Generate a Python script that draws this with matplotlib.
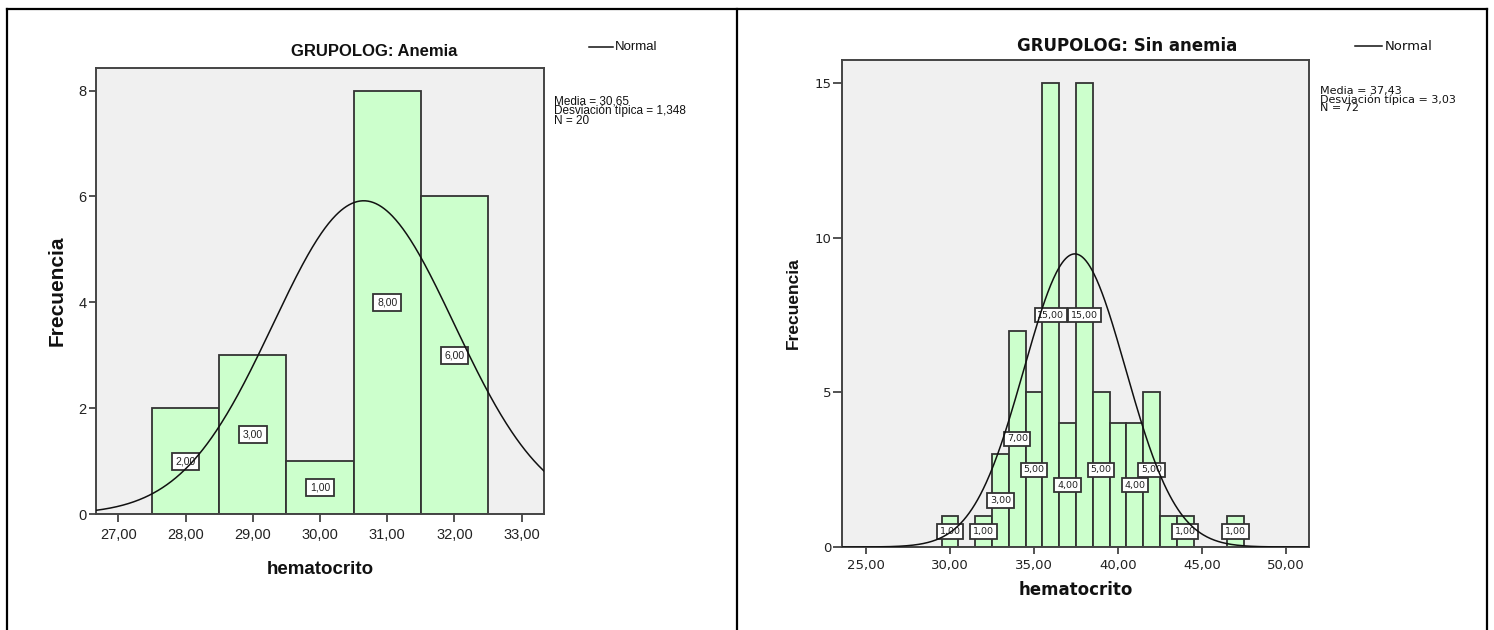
import numpy as np
import matplotlib
matplotlib.use('Agg')
import matplotlib.pyplot as plt
from matplotlib.lines import Line2D

W, H = 1494, 630

# ---------------- data ----------------
left_title = 'GRUPOLOG: Anemia'
left_centers = [28, 29, 30, 31, 32]
left_counts = [2, 3, 1, 8, 6]
left_show = [True, True, True, True, True]
left_mean, left_sd, left_n = 30.65, 1.348, 20
left_stats = ['Media = 30,65', 'Desviación típica = 1,348', 'N = 20']
left_xticks = [27, 28, 29, 30, 31, 32, 33]
left_xticklabels = ['27,00', '28,00', '29,00', '30,00', '31,00', '32,00', '33,00']
left_yticks = [0, 2, 4, 6, 8]
left_yticklabels = ['0', '2', '4', '6', '8']

right_title = 'GRUPOLOG: Sin anemia'
right_centers = [30, 31, 32, 33, 34, 35, 36, 37, 38, 39, 40, 41, 42, 43, 44, 45, 46, 47]
right_counts = [1, 0, 1, 3, 7, 5, 15, 4, 15, 5, 4, 4, 5, 1, 1, 0, 0, 1]
right_show = [True, False, True, True, True, True, True, True, True, True, False, True, True, False, True, False, False, True]
right_mean, right_sd, right_n = 37.43, 3.03, 72
right_stats = ['Media = 37,43', 'Desviación típica = 3,03', 'N = 72']
right_xticks = [25, 30, 35, 40, 45, 50]
right_xticklabels = ['25,00', '30,00', '35,00', '40,00', '45,00', '50,00']
right_yticks = [0, 5, 10, 15]
right_yticklabels = ['0', '5', '10', '15']

x_label = 'hematocrito'
y_label = 'Frecuencia'
legend_label = 'Normal'
bin_width = 1.0

# ---------------- styles ----------------
BG = '#F0F0F0'
BAR = '#CCFFCC'
EDGE = '#333333'
SPINE = '#444444'
ARIAL = ['Liberation Sans', 'DejaVu Sans']
DEJAVU = ['DejaVu Sans']


def fx(px):
    return px / W


def fy(py):
    return 1 - py / H


def rect(x0, y0, x1, y1):
    return [fx(x0), fy(y1), (x1 - x0) / W, (y1 - y0) / H]


fig = plt.figure(figsize=(W / 100, H / 100), dpi=100)
fig.patch.set_facecolor('white')

# outer frame lines
for xs, ys in [((7, 1487), (9, 9)), ((7, 7), (9, 630)), ((737, 737), (9, 630)), ((1487, 1487), (9, 630))]:
    fig.add_artist(Line2D([fx(xs[0]), fx(xs[1])], [fy(ys[0]), fy(ys[1])],
                          color='black', lw=1.6, transform=fig.transFigure))


def panel(r, centers, counts, show, mean, sd, n, xlim, ylim, xticks, xtl, yticks, ytl,
          tick_fam, tick_size, lab_fam, lab_size, box_pad, xtick_len, ytick_len, xpad, ypad):
    ax = fig.add_axes(r)
    ax.set_facecolor(BG)
    ax.bar(centers, counts, width=bin_width, color=BAR, edgecolor=EDGE, linewidth=1.3, zorder=2)
    for c, v, s in zip(centers, counts, show):
        if s and v > 0:
            ax.text(c, v / 2, f'{v:.2f}'.replace('.', ','), ha='center', va='center',
                    family=lab_fam, fontsize=lab_size, color='#222222', zorder=3,
                    bbox=dict(boxstyle=f'square,pad={box_pad}', fc='white', ec=EDGE, lw=1.3))
    xs = np.linspace(xlim[0], xlim[1], 500)
    ys = n * bin_width / (sd * np.sqrt(2 * np.pi)) * np.exp(-0.5 * ((xs - mean) / sd) ** 2)
    ax.plot(xs, ys, color='#111111', lw=1.1, zorder=4)
    ax.set_xlim(*xlim)
    ax.set_ylim(*ylim)
    ax.set_xticks(xticks)
    ax.set_xticklabels(xtl, family=tick_fam, fontsize=tick_size, color='#222222')
    ax.set_yticks(yticks)
    ax.set_yticklabels(ytl, family=tick_fam, fontsize=tick_size, color='#222222')
    ax.tick_params(axis='x', direction='out', length=xtick_len, width=1.3, color=SPINE, pad=xpad)
    ax.tick_params(axis='y', direction='out', length=ytick_len, width=1.3, color=SPINE, pad=ypad)
    for sp in ax.spines.values():
        sp.set_color(SPINE)
        sp.set_linewidth(1.4)
    return ax


# ---------------- left panel ----------------
panel(rect(96, 68.3, 544, 514.3), left_centers, left_counts, left_show,
      left_mean, left_sd, left_n, (26.667, 33.333), (0, 8.42),
      left_xticks, left_xticklabels, left_yticks, left_yticklabels,
      ARIAL, 10.5, ARIAL, 7.5, 0.35, 6, 5, 4, 2)

fig.text(fx(374), fy(52), left_title, ha='center', va='center', family=ARIAL,
         fontweight='bold', fontsize=12, color='#111111')
fig.add_artist(Line2D([fx(589), fx(613)], [fy(46.7), fy(46.7)], color='#111111', lw=1.1,
                      transform=fig.transFigure))
fig.text(fx(615), fy(46.7), legend_label, ha='left', va='center', family=ARIAL,
         fontsize=9.5, color='#111111')
fig.text(fx(554), fy(96), '\n'.join(left_stats), ha='left', va='top', family=ARIAL,
         fontsize=8.5, linespacing=0.72, color='#111111')
fig.text(fx(57.5), fy(291), y_label, ha='center', va='center', rotation=90,
         family=ARIAL, fontweight='bold', fontsize=15, color='#111111')
fig.text(fx(320), fy(570), x_label, ha='center', va='center', family=ARIAL,
         fontweight='bold', fontsize=13.5, color='#111111')

# ---------------- right panel ----------------
panel(rect(842, 60, 1309, 547), right_centers, right_counts, right_show,
      right_mean, right_sd, right_n, (23.57, 51.37), (0, 15.75),
      right_xticks, right_xticklabels, right_yticks, right_yticklabels,
      DEJAVU, 9.5, DEJAVU, 6.8, 0.28, 5, 6.5, 4, 1)

fig.text(fx(1127), fy(46), right_title, ha='center', va='center', family=DEJAVU,
         fontweight='bold', fontsize=12, color='#111111')
fig.add_artist(Line2D([fx(1355), fx(1382)], [fy(46), fy(46)], color='#111111', lw=1.1,
                      transform=fig.transFigure))
fig.text(fx(1385), fy(46), legend_label, ha='left', va='center', family=DEJAVU,
         fontsize=9.5, color='#111111')
fig.text(fx(1320), fy(86), '\n'.join(right_stats), ha='left', va='top', family=DEJAVU,
         fontsize=8, linespacing=0.78, color='#111111')
fig.text(fx(793), fy(303.5), y_label, ha='center', va='center', rotation=90,
         family=ARIAL, fontweight='bold', fontsize=12.5, color='#111111')
fig.text(fx(1076), fy(590), x_label, ha='center', va='center', family=DEJAVU,
         fontweight='bold', fontsize=12, color='#111111')

fig.savefig('out.png', dpi=100, facecolor='white')
